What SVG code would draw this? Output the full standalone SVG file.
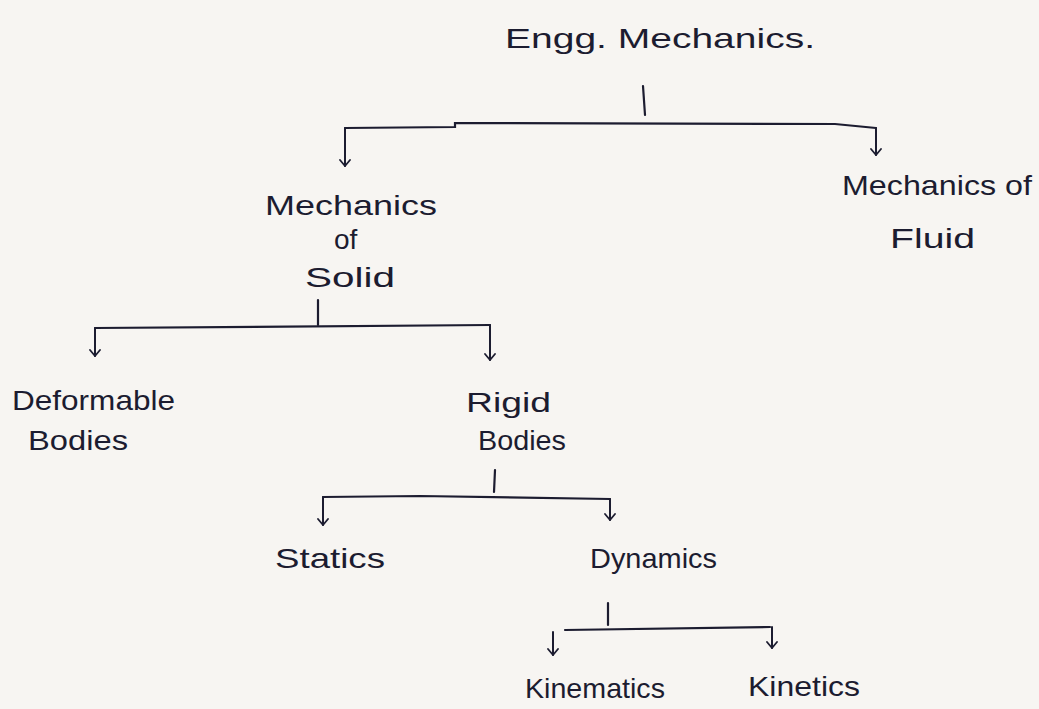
<svg xmlns="http://www.w3.org/2000/svg" width="1039" height="709" viewBox="0 0 1039 709">
<defs>
<marker id="arr" viewBox="0 0 12 12" refX="10" refY="6" markerWidth="12" markerHeight="12" markerUnits="userSpaceOnUse" orient="auto">
<path d="M4,1 L10,6 L4,11" fill="none" stroke="#1c1c30" stroke-width="1.8" stroke-linecap="round" stroke-linejoin="round"/>
</marker>
<style>
text{font-family:"Liberation Sans","DejaVu Sans",sans-serif;fill:#1c1c30;font-size:28px}
.ln{fill:none;stroke:#1c1c30;stroke-width:2.2;stroke-linecap:round}
.dr{fill:none;stroke:#1c1c30;stroke-width:2;stroke-linecap:round;marker-end:url(#arr)}
</style>
</defs>
<rect width="1039" height="709" fill="#f7f5f2"/>
<g id="connectors">
<path class="ln" d="M643,86 L645,115"/>
<path class="ln" d="M345,128 L455,127 L455,123 L835,124 L876,128"/>
<path class="dr" d="M345,128 L345,166"/>
<path class="dr" d="M876,128 L876,155"/>
<path class="ln" d="M318,300 L318,325"/>
<path class="ln" d="M95,328 L490,325"/>
<path class="dr" d="M95,328 L95,356"/>
<path class="dr" d="M490,325 L490,360"/>
<path class="ln" d="M495,470 L494,492"/>
<path class="ln" d="M323,497 L420,496 L610,499"/>
<path class="dr" d="M323,497 L323,525"/>
<path class="dr" d="M610,499 L610,520"/>
<path class="ln" d="M608,603 L608,625"/>
<path class="ln" d="M565,630 L770,627"/>
<path class="dr" d="M553,632 L553,655"/>
<path class="dr" d="M772,627 L772,648"/>
</g>
<g id="n_engg"><text x="505" y="48" textLength="310" lengthAdjust="spacingAndGlyphs">Engg. Mechanics.</text></g>
<g id="n_solid">
<text x="265" y="215" textLength="172" lengthAdjust="spacingAndGlyphs">Mechanics</text>
<text x="334" y="249" font-size="22">of</text>
<text x="305" y="287" textLength="90" lengthAdjust="spacingAndGlyphs">Solid</text>
</g>
<g id="n_fluid">
<text x="842" y="195" textLength="190" lengthAdjust="spacingAndGlyphs">Mechanics of</text>
<text x="890" y="248" textLength="85" lengthAdjust="spacingAndGlyphs">Fluid</text>
</g>
<g id="n_deform">
<text x="12" y="410" textLength="163" lengthAdjust="spacingAndGlyphs">Deformable</text>
<text x="28" y="450" textLength="100" lengthAdjust="spacingAndGlyphs">Bodies</text>
</g>
<g id="n_rigid">
<text x="466" y="412" textLength="85" lengthAdjust="spacingAndGlyphs">Rigid</text>
<text x="478" y="450" textLength="88" lengthAdjust="spacingAndGlyphs">Bodies</text>
</g>
<g id="n_statics"><text x="275" y="568" textLength="110" lengthAdjust="spacingAndGlyphs">Statics</text></g>
<g id="n_dynamics"><text x="590" y="568" textLength="127" lengthAdjust="spacingAndGlyphs">Dynamics</text></g>
<g id="n_kinematics"><text x="525" y="698" textLength="140" lengthAdjust="spacingAndGlyphs">Kinematics</text></g>
<g id="n_kinetics"><text x="748" y="696" textLength="112" lengthAdjust="spacingAndGlyphs">Kinetics</text></g>
</svg>
